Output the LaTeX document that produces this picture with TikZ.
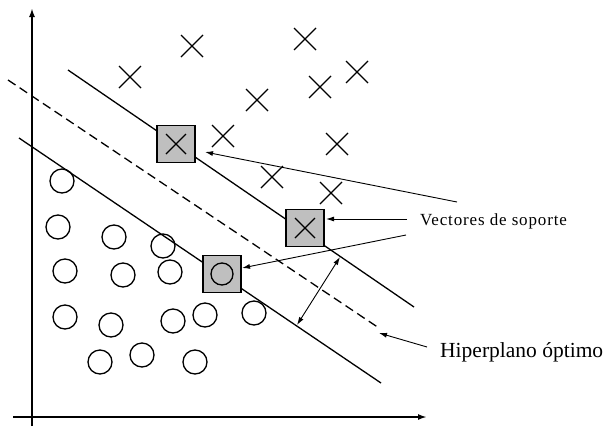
\documentclass[tikz,border=0pt]{standalone}
\usepackage{fontspec}
\setmainfont{Liberation Serif}
\usetikzlibrary{arrows.meta}
\begin{document}
\begin{tikzpicture}[x=1pt,y=-1pt,
  ax/.style={line width=2pt,-{Latex[length=9pt,width=6pt]}},
  sep/.style={line width=1.3pt},
  dsep/.style={line width=1.3pt,dash pattern=on 9pt off 5pt},
  xmark/.style={line width=1.3pt},
  omark/.style={line width=1.3pt},
  svbox/.style={draw,line width=1.8pt,fill=black!25,minimum width=38pt,minimum height=37pt,inner sep=0pt},
  lbl/.style={inner sep=0pt,anchor=base west},
  ptr/.style={line width=0.9pt,-{Latex[length=8pt,width=5pt]}},
  dptr/.style={line width=0.9pt,{Latex[length=8pt,width=5pt]}-{Latex[length=8pt,width=5pt]}},
]
\useasboundingbox (0,0) rectangle (610,426);
% axes
\coordinate (ybot) at (32,426);
\coordinate (ytop) at (32,8);
\coordinate (xl) at (13,417);
\coordinate (xr) at (427,417);
\draw[ax] (ybot) -- (ytop);
\draw[ax] (xl) -- (xr);
% margin lines
\coordinate (u1) at (68,70);   \coordinate (u2) at (414,307);
\coordinate (d1) at (8,80);    \coordinate (d2) at (379,328);
\coordinate (l1) at (19,138);  \coordinate (l2) at (381,383);
\draw[sep] (u1) -- (u2);
\draw[dsep] (d1) -- (d2);
\draw[sep] (l1) -- (l2);
% crosses
\foreach \px/\py in {192/46,305/39,130/77,357/72,320/87,257/100,223/136,337/144,272/177,331/193}{
  \draw[xmark] (\px-11,\py-11) -- (\px+11,\py+11) (\px-11,\py+11) -- (\px+11,\py-11);
}
% circles
\foreach \px/\py in {62/181,58/227,114/237,163/246,65/271,123/275,170/272,65/317,111/325,173/321,205/315,254/313,100/362,142/355,195/362}{
  \draw[omark] (\px,\py) circle[radius=12pt];
}
% support vectors
\node[svbox] (sv1) at (176,144) {};
\node[svbox] (sv2) at (305,228) {};
\node[svbox] (sv3) at (222,274) {};
\draw[xmark] ([shift={(-10,-10)}]sv1.center) -- ([shift={(10,10)}]sv1.center)
             ([shift={(-10,10)}]sv1.center) -- ([shift={(10,-10)}]sv1.center);
\draw[xmark] ([shift={(-10,-10)}]sv2.center) -- ([shift={(10,10)}]sv2.center)
             ([shift={(-10,10)}]sv2.center) -- ([shift={(10,-10)}]sv2.center);
\draw[omark] (sv3.center) circle[radius=11pt];
% labels
\node[lbl] (vec) at (420,225) {\fontsize{17}{20}\selectfont\addfontfeatures{LetterSpace=5}Vectores de soporte};
\node[lbl] (hip) at (440,357) {\fontsize{21.5}{24}\selectfont Hiperplano óptimo};
% pointers
\coordinate (a1s) at (457,202); \coordinate (a1e) at (205,152);
\coordinate (a2s) at (407,219); \coordinate (a2e) at (326,219);
\coordinate (a3s) at (406,235); \coordinate (a3e) at (242,268);
\coordinate (a4s) at (427,347); \coordinate (a4e) at (379,333);
\draw[ptr] (a1s) -- (a1e);
\draw[ptr] (a2s) -- (a2e);
\draw[ptr] (a3s) -- (a3e);
\draw[ptr] (a4s) -- (a4e);
% margin width
\coordinate (m1) at (340,257); \coordinate (m2) at (297,325);
\draw[dptr] (m1) -- (m2);
\end{tikzpicture}
\end{document}
